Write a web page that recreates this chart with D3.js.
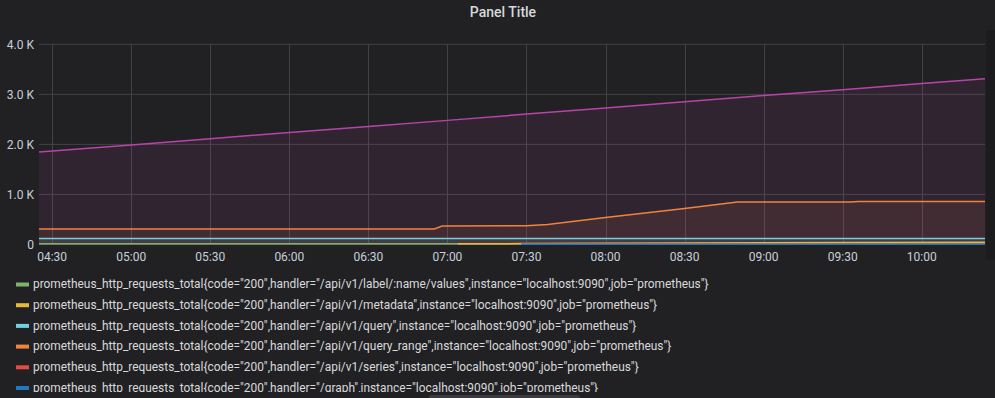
<!DOCTYPE html>
<html>
<head>
<meta charset="utf-8">
<script src="https://cdn.jsdelivr.net/npm/d3@7"></script>
<style>
  html, body { margin: 0; padding: 0; background: #212124; overflow: hidden; }
  svg { display: block; font-family: Roboto, "Noto Sans", sans-serif; }
</style>
</head>
<body>
<svg id="chart" width="995" height="398"></svg>
<script>
// series data (time "HH:MM", value in requests)
const seriesNames = [
  'prometheus_http_requests_total{code="200",handler="/api/v1/label/:name/values",instance="localhost:9090",job="prometheus"}',
  'prometheus_http_requests_total{code="200",handler="/api/v1/metadata",instance="localhost:9090",job="prometheus"}',
  'prometheus_http_requests_total{code="200",handler="/api/v1/query",instance="localhost:9090",job="prometheus"}',
  'prometheus_http_requests_total{code="200",handler="/api/v1/query_range",instance="localhost:9090",job="prometheus"}',
  'prometheus_http_requests_total{code="200",handler="/api/v1/series",instance="localhost:9090",job="prometheus"}',
  'prometheus_http_requests_total{code="200",handler="/graph",instance="localhost:9090",job="prometheus"}',
  'prometheus_http_requests_total{code="200",handler="/metrics",instance="localhost:9090",job="prometheus"}'
];
const seriesColors = ["#7EB26D", "#EAB839", "#6ED0E0", "#EF843C", "#E24D42", "#1F78C1", "#BA43A9"];

const labelValuesTimes  = ["04:25", "10:24"];
const labelValuesValues = [15, 15];

const metadataTimes  = ["07:04", "07:28", "08:30", "09:30", "10:24"];
const metadataValues = [15, 18, 30, 40, 45];

const queryTimes  = ["04:25", "07:00", "10:24"];
const queryValues = [122, 122, 118];

const queryRangeTimes  = ["04:25", "06:55", "06:58", "07:30", "07:38", "08:00", "08:30", "08:50", "09:33", "09:36", "10:24"];
const queryRangeValues = [310, 310, 370, 375, 400, 540, 720, 850, 850, 858, 858];

const seriesTimes  = ["07:28", "10:24"];
const seriesValues = [5, 5];

const graphTimes  = ["07:28", "10:24"];
const graphValues = [6, 6];

const metricsTimes  = ["04:25", "05:00", "05:30", "06:00", "06:30", "07:00", "07:30", "08:00", "08:30", "09:00", "09:30", "10:00", "10:24"];
const metricsValues = [1850, 1990, 2115, 2240, 2360, 2480, 2605, 2725, 2850, 2975, 3090, 3215, 3310];

const yTicks = [0, 1000, 2000, 3000, 4000];

const timeSets = [labelValuesTimes, metadataTimes, queryTimes, queryRangeTimes, seriesTimes, graphTimes, metricsTimes];
const valueSets = [labelValuesValues, metadataValues, queryValues, queryRangeValues, seriesValues, graphValues, metricsValues];

const parseTime = d3.timeParse("%Y-%m-%d %H:%M");
const t = s => parseTime("2020-01-01 " + s);

const series = seriesNames.map((name, i) => ({
  name,
  color: seriesColors[i],
  points: timeSets[i].map((s, j) => ({ time: t(s), value: valueSets[i][j] }))
}));

const svg = d3.select("#chart");
const plot = { left: 39, right: 985, top: 44.3, bottom: 244.5 };

const x = d3.scaleTime()
  .domain([t("04:25"), t("10:24")])
  .range([plot.left, plot.right]);
const y = d3.scaleLinear()
  .domain([0, 4000])
  .range([plot.bottom, plot.top]);

// title
svg.append("text")
  .attr("x", 503).attr("y", 17)
  .attr("text-anchor", "middle")
  .attr("fill", "#d8d9da")
  .style("font-size", "14px").style("font-weight", 500)
  .text("Panel Title");

// right strip
svg.append("rect")
  .attr("x", 986).attr("y", 30).attr("width", 9).attr("height", 230)
  .attr("fill", "#1c1c1e");

// grid
const xTicks = x.ticks(d3.timeMinute.every(30));
svg.append("g")
  .selectAll("line")
  .data(yTicks)
  .join("line")
  .attr("x1", plot.left).attr("x2", plot.right)
  .attr("y1", d => y(d)).attr("y2", d => y(d))
  .attr("stroke", "#434347").attr("stroke-width", 1);
svg.append("g")
  .selectAll("line")
  .data(xTicks)
  .join("line")
  .attr("x1", d => Math.round(x(d)) + 0.5).attr("x2", d => Math.round(x(d)) + 0.5)
  .attr("y1", plot.top).attr("y2", plot.bottom)
  .attr("stroke", "#434347").attr("stroke-width", 1);

// y labels
svg.append("g")
  .selectAll("text")
  .data(yTicks)
  .join("text")
  .attr("x", 34).attr("y", d => y(d))
  .attr("dy", "0.35em")
  .attr("text-anchor", "end")
  .attr("fill", "#c7d0d9")
  .style("font-size", "12px")
  .text(d => d === 0 ? "0" : (d / 1000).toFixed(1) + " K");

// x labels
svg.append("g")
  .selectAll("text")
  .data(xTicks)
  .join("text")
  .attr("x", d => x(d)).attr("y", 257)
  .attr("dy", "0.35em")
  .attr("text-anchor", "middle")
  .attr("fill", "#c7d0d9")
  .style("font-size", "12px")
  .text(d3.timeFormat("%H:%M"));

// fills and lines
const area = d3.area()
  .x(d => x(d.time))
  .y0(y(0))
  .y1(d => y(d.value));
const line = d3.line()
  .x(d => x(d.time))
  .y(d => y(d.value));

svg.append("g")
  .selectAll("path")
  .data(series)
  .join("path")
  .attr("d", d => area(d.points))
  .attr("fill", d => d.color)
  .attr("fill-opacity", 0.1);

svg.append("g")
  .selectAll("path")
  .data(series)
  .join("path")
  .attr("d", d => line(d.points))
  .attr("fill", "none")
  .attr("stroke", d => d.color)
  .attr("stroke-width", 1.5);

// legend (clipped like the scrolling panel legend)
svg.append("clipPath").attr("id", "legclip")
  .append("rect").attr("x", 0).attr("y", 272).attr("width", 995).attr("height", 120);

const legend = svg.append("g").attr("clip-path", "url(#legclip)")
  .selectAll("g")
  .data(series)
  .join("g")
  .attr("transform", (d, i) => `translate(0, ${284 + i * 20.7})`);
legend.append("rect")
  .attr("x", 16).attr("y", -1.5).attr("width", 13).attr("height", 4)
  .attr("fill", d => d.color);
legend.append("text")
  .attr("x", 33).attr("y", 0)
  .attr("dy", "0.35em")
  .attr("fill", "#d8d9da")
  .style("font-size", "11.9px")
  .text(d => d.name);

// scrollbar thumb at the bottom
svg.append("rect")
  .attr("x", 429).attr("y", 395).attr("width", 151).attr("height", 4).attr("rx", 2)
  .attr("fill", "#3b3b3f");
</script>
</body>
</html>
